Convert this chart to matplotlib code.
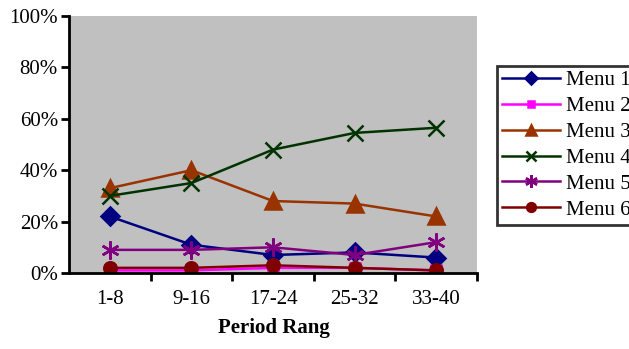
import matplotlib.pyplot as plt
from matplotlib.transforms import Bbox

periods = ['1-8', '9-16', '17-24', '25-32', '33-40']
menu1 = [22, 11, 7, 8, 6]
menu2 = [1, 1, 2, 2, 1]
menu3 = [33, 40, 28, 27, 22]
menu4 = [30, 35, 48, 54.5, 56.5]
menu5 = [9, 9, 10, 7, 12]
menu6 = [2, 2, 3, 2, 1]
names = ['Menu 1', 'Menu 2', 'Menu 3', 'Menu 4', 'Menu 5', 'Menu 6']

plt.rcParams['font.family'] = 'Liberation Serif'

fig = plt.figure(figsize=(6.29, 3.49), dpi=100)
ax = fig.add_axes([0.1097, 0.2178, 0.6486, 0.7364])
ax.set_facecolor('#C0C0C0')

styles = [
    ('#000080', 'D', 9),
    ('#FF00FF', 's', 7),
    ('#993300', '^', 11),
    ('#003300', 'x', 11),
    ('#800080', (6, 2, 0), 13),
    ('#800000', 'o', 9),
]
x = list(range(len(periods)))
for vals, name, (c, m, ms) in zip([menu1, menu2, menu3, menu4, menu5, menu6], names, styles):
    ax.plot(x, vals, color=c, marker=m, markersize=ms, linewidth=1.8,
            markeredgewidth=1.8, label=name)

ax.set_xlim(-0.5, 4.5)
ax.set_ylim(0, 100)
ax.set_yticks([0, 20, 40, 60, 80, 100])
ax.set_yticklabels(['0%', '20%', '40%', '60%', '80%', '100%'], fontsize=15)
ax.set_xticks(x)
ax.set_xticklabels(periods, fontsize=15)
ax.set_xticks([0.5, 1.5, 2.5, 3.5, 4.5], minor=True)
ax.tick_params(axis='x', which='major', length=0, pad=12)
ax.tick_params(axis='x', which='minor', length=6, width=2, direction='out')
ax.tick_params(axis='y', length=6, width=2, direction='out', pad=2)
ax.spines['top'].set_visible(False)
ax.spines['right'].set_visible(False)
ax.spines['left'].set_linewidth(2)
ax.spines['bottom'].set_linewidth(2)

# x-axis title, clipped like the source image
lbl = fig.text(0.3465, 0.045, 'Period Range', fontsize=15, fontweight='bold')
lbl.set_clip_box(Bbox.from_extents(0, 0, 330, 349))
lbl.set_clip_on(True)

leg = fig.legend(loc='upper left', bbox_to_anchor=(0.79, 0.812), fontsize=15,
                 frameon=True, fancybox=False, edgecolor='black',
                 borderaxespad=0, handlelength=2.8, labelspacing=0.3,
                 borderpad=0.25, handletextpad=0.25, markerscale=0.7)
leg.get_frame().set_linewidth(2)

fig.savefig('out.png', dpi=100)
